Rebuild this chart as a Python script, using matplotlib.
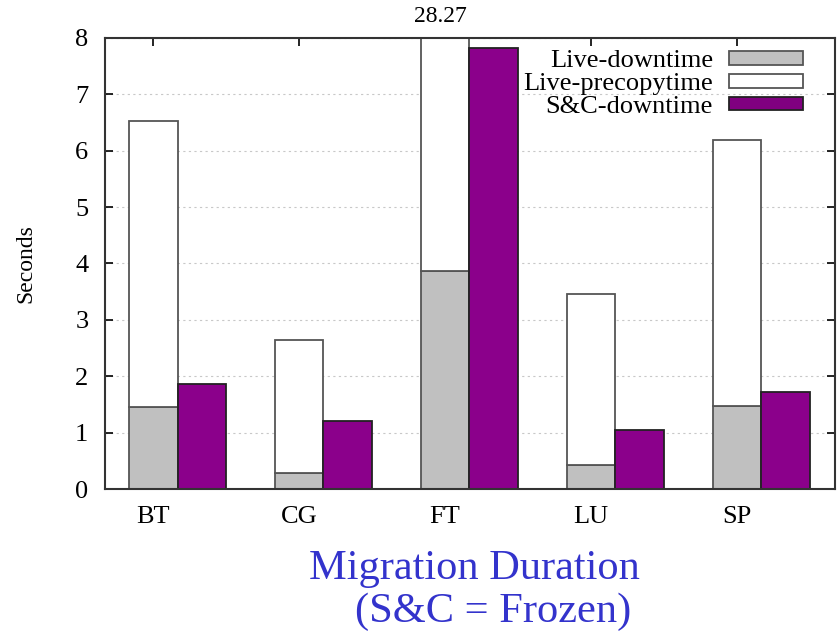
import matplotlib.pyplot as plt
import matplotlib.transforms as mtransforms
from matplotlib.patches import Patch

plt.rcParams['font.family'] = ['Liberation Serif', 'DejaVu Serif']

benchmarks = ["BT", "CG", "FT", "LU", "SP"]
live_downtime = [1.45, 0.28, 3.87, 0.43, 1.47]
live_total = [6.53, 2.65, 28.27, 3.46, 6.19]
sc_downtime = [1.87, 1.20, 7.82, 1.04, 1.72]
live_precopy = [t - d for t, d in zip(live_total, live_downtime)]

ymax = 8
width = 1 / 3
x = list(range(len(benchmarks)))

fig = plt.figure(figsize=(8.38, 6.31), dpi=100)
ax = fig.add_axes([0.1253, 0.225, 0.871, 0.715])

ax.bar(x, live_downtime, width, color="#c0c0c0", edgecolor="#555555", linewidth=1.3, zorder=2)
ax.bar(x, live_precopy, width, bottom=live_downtime, color="white",
       edgecolor="#555555", linewidth=1.3, zorder=2)
ax.bar([i + width for i in x], sc_downtime, width, color="#8b008b",
       edgecolor="#222222", linewidth=1.3, zorder=2)

# label for the bar that runs off the top
trans = mtransforms.blended_transform_factory(ax.transData, ax.transAxes)
for i, t in enumerate(live_total):
    if t > ymax:
        ax.text(i - 0.03, 1.025, f"{t:.2f}", transform=trans, ha="center", va="bottom", fontsize=17)

ax.set_xlim(-0.33, 4.67)
ax.set_ylim(0, ymax)
ax.set_xticks(x)
ax.set_xticklabels(benchmarks, fontsize=19)
ax.set_yticks(range(0, 9))
ax.tick_params(axis="y", labelsize=19)
ax.tick_params(direction="in", top=True, right=True, length=6, width=1.2)
ax.tick_params(axis="y", pad=12)
ax.tick_params(axis="x", pad=12)
for s in ax.spines.values():
    s.set_linewidth(1.5)
    s.set_color("#333333")
ax.yaxis.grid(True, linestyle=(0, (2, 3)), color="#c8c8c8", linewidth=0.8, zorder=0)
ax.set_axisbelow(True)
ax.set_ylabel("Seconds", fontsize=17, labelpad=28)

handles = [
    Patch(facecolor="#c0c0c0", edgecolor="#555555", linewidth=1.3),
    Patch(facecolor="white", edgecolor="#555555", linewidth=1.3),
    Patch(facecolor="#800080", edgecolor="#222222", linewidth=1.3),
]
ax.legend(handles, ["Live-downtime", "Live-precopytime", "S&C-downtime"],
          loc="upper right", bbox_to_anchor=(0.956, 0.972), frameon=False,
          markerfirst=False, fontsize=19, handlelength=2.8, handleheight=0.42,
          labelspacing=0.03, handletextpad=0.6, borderaxespad=0, borderpad=0)

fig.text(0.5656, 0.098, "Migration Duration", color="#3333cc", fontsize=30.5,
         ha="center", va="center")
fig.text(0.589, 0.031, "(S&C = Frozen)", color="#3333cc", fontsize=30.5,
         ha="center", va="center")

fig.savefig("out.png", dpi=100)
